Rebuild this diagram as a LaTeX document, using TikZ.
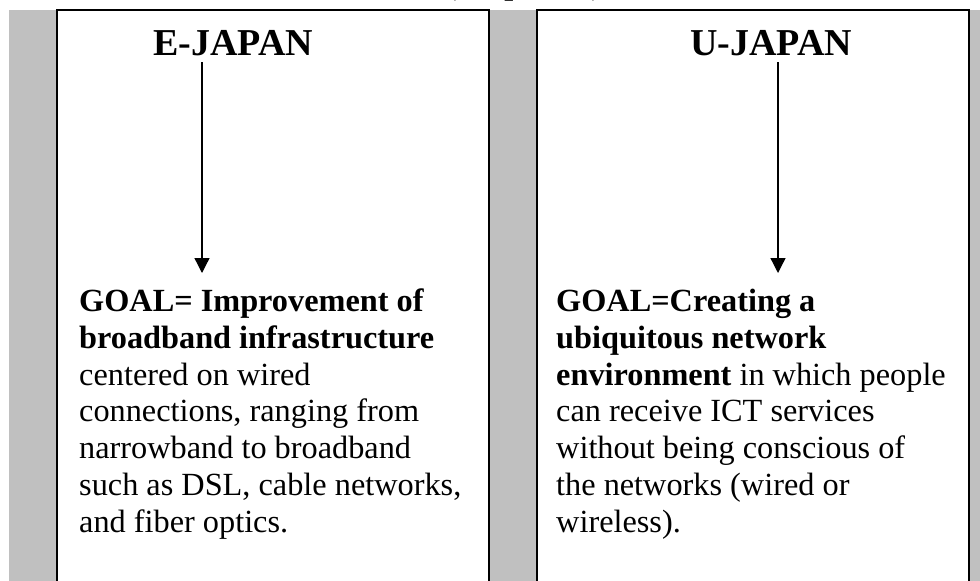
\documentclass[tikz,border=0pt]{standalone}
\usepackage{fontspec}
\setmainfont{Liberation Serif}
\usetikzlibrary{arrows.meta}
\definecolor{stripgrey}{HTML}{C0C0C0}
\tikzset{
  panel/.style={draw=black, line width=2pt, fill=white},
  heading/.style={font=\fontsize{38}{44}\selectfont\bfseries, inner sep=0pt, anchor=base west},
  bodytext/.style={font=\fontsize{32.3}{36.7}\selectfont, inner sep=0pt, anchor=base west, align=left},
  flowarrow/.style={line width=1.3pt, -{Triangle[width=15pt,length=15pt]}}
}
\begin{document}
\begin{tikzpicture}[x=1pt,y=-1pt]
  \useasboundingbox (0,0) rectangle (980,581);
  \clip (0,0) rectangle (980,581);
  % grey strips
  \fill[stripgrey] (9,10) rectangle (980,590);
  % panels
  \draw[panel] (57,10) rectangle (489,600);
  \draw[panel] (537,10) rectangle (969,600);
  % cut-off title
  \node[font=\fontsize{32}{38}\selectfont\bfseries, inner sep=0pt, anchor=base] (title) at (524,-5.8) {(simplified)};
  % headings
  \node[heading] (ej) at (153,55) {E-JAPAN};
  \node[heading] (uj) at (690,55) {U-JAPAN};
  \coordinate (ejs) at (202,62);
  \coordinate (eje) at (202,273);
  \coordinate (ujs) at (778,62);
  \coordinate (uje) at (778,273);
  \draw[flowarrow] (ejs) -- (eje);
  \draw[flowarrow] (ujs) -- (uje);
  % body texts (anchored at the baseline of the last line)
  \node[bodytext] (eg) at (79,532) {\textbf{GOAL= Improvement of}\\
    \textbf{broadband infrastructure}\\
    centered on wired\\
    connections, ranging from\\
    narrowband to broadband\\
    such as DSL, cable networks,\\
    and fiber optics.};
  \node[bodytext] (ug) at (556,532) {\textbf{GOAL=Creating a}\\
    \textbf{ubiquitous network}\\
    \textbf{environment} in which people\\
    can receive ICT services\\
    without being conscious of\\
    the networks (wired or\\
    wireless).};
\end{tikzpicture}
\end{document}
